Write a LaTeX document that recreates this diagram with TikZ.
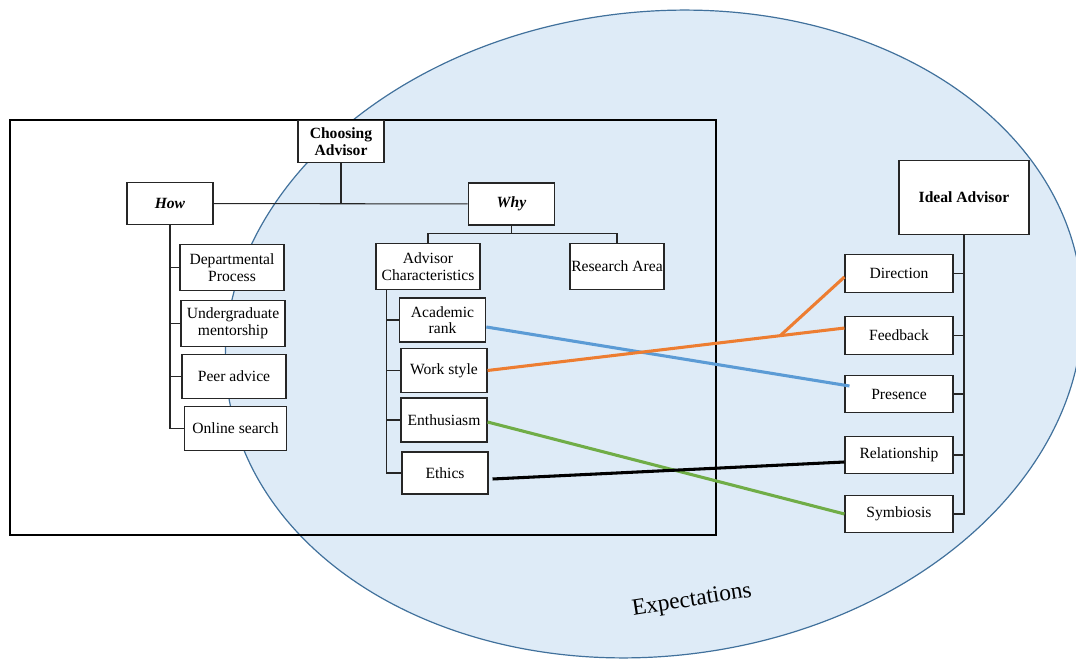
\documentclass[tikz,border=0pt]{standalone}
\usepackage{fontspec}
\setmainfont{Liberation Serif}
\usetikzlibrary{calc}
\definecolor{expfill}{RGB}{222,235,247}
\definecolor{expline}{RGB}{65,113,156}
\definecolor{boxline}{RGB}{38,38,38}
\definecolor{linkblue}{RGB}{91,155,213}
\definecolor{linkorange}{RGB}{237,125,49}
\definecolor{linkgreen}{RGB}{112,173,71}
\tikzset{
  box/.style={rectangle, draw=boxline, fill=white, line width=0.8pt, align=center,
              inner sep=1pt, minimum width=#1, minimum height=33pt,
              font=\fontsize{11.7}{12.5}\selectfont},
  box/.default=64.5pt,
  headbox/.style={box=#1, font=\fontsize{11.7}{12.5}\selectfont\bfseries},
  headbox/.default=64.5pt,
  rbox/.style={box=81pt, minimum height=28pt},
  tree/.style={draw=boxline, line width=0.8pt},
  link/.style={line width=2.3pt, color=#1},
}

\begin{document}
\begin{tikzpicture}[x=0.75pt, y=-0.75pt]
  \useasboundingbox (0,0) rectangle (1076,659);
  \draw[fill=expfill, draw=expline, line width=0.9pt, shift={(654,334)}, rotate=7]
       (0,0) ellipse [x radius=430, y radius=322];
  \node[rotate=9, font=\fontsize{17.5}{20}\selectfont] (expect) at (692,601) {Expectations};
  \draw[line width=0.9pt] (10,120) rectangle (716,535);

  \node[headbox, minimum height=32pt] (choose) at (341,141.5) {Choosing\\Advisor};
  \node[headbox, minimum height=32pt] (how) at (170,203.5) {\textit{How}};
  \node[headbox=65pt, minimum height=31.5pt] (why) at (511.5,204) {\textit{Why}};

  \node[box=78pt, minimum height=34pt] (dept) at (232,267.5) {Departmental\\Process};
  \node[box=78pt, minimum height=34pt] (mentor) at (233,323.5) {Undergraduate\\mentorship};
  \node[box=78pt, minimum height=32.5pt] (peer) at (234,376.5) {Peer advice};
  \node[box=77pt, minimum height=32.5pt] (online) at (235.5,428.5) {Online search};

  \node[box=78pt, minimum height=35pt] (advchar) at (428,266.5) {Advisor\\Characteristics};
  \node[box=70.5pt, minimum height=35pt] (research) at (617,266.5) {Research Area};
  \node[box=65pt] (rank) at (442.5,320) {Academic\\rank};
  \node[box] (work) at (444,370.5) {Work style};
  \node[box] (enthus) at (444,420) {Enthusiasm};
  \node[box, minimum height=31.5pt] (ethics) at (445,473) {Ethics};

  \node[headbox=97.5pt, minimum height=55pt] (ideal) at (964,197.5) {Ideal Advisor};
  \node[rbox] (direction) at (899,273.5) {Direction};
  \node[rbox] (feedback) at (899,335.5) {Feedback};
  \node[rbox] (presence) at (899,394) {Presence};
  \node[rbox] (relation) at (899,455) {Relationship};
  \node[rbox] (symbiosis) at (899,514) {Symbiosis};

  \draw[tree] (choose) -- (choose |- how);
  \draw[tree] (how) -- (why);
  \draw[tree] (how.south) |- (online.west);
  \foreach \n in {dept, mentor, peer}
    \draw[tree] (how.south |- \n.west) -- (\n.west);

  \coordinate (whyjoin) at ($(why.south)+(0,8)$);
  \draw[tree] (why.south) -- (whyjoin);
  \draw[tree] (advchar.north) |- (whyjoin) -| (research.north);

  \coordinate (acroot) at ([xshift=8.25pt]advchar.south west);
  \draw[tree] (acroot) |- (ethics.west);
  \foreach \n in {rank, work, enthus}
    \draw[tree] (acroot |- \n.west) -- (\n.west);

  \draw[tree] (ideal.south) |- (symbiosis.east);
  \foreach \n in {direction, feedback, presence, relation}
    \draw[tree] (ideal.south |- \n.east) -- (\n.east);

  \draw[link=linkblue] ([yshift=-5.25pt]rank.east) -- ([xshift=3.75pt, yshift=6pt]presence.west);
  \coordinate (fbend) at ([yshift=5.6pt]feedback.west);
  \coordinate (fork) at ($(work.east)!0.82!(fbend)$);
  \draw[link=linkorange] (work.east) -- (fbend);
  \draw[link=linkorange] (fork) -- ([yshift=-2.6pt]direction.west);
  \draw[link=linkgreen] ([yshift=-1.5pt]enthus.east) -- (symbiosis.west);
  \draw[link=black] ([xshift=3pt, yshift=-4.5pt]ethics.east) -- ([yshift=-5.25pt]relation.west);
\end{tikzpicture}
\end{document}
